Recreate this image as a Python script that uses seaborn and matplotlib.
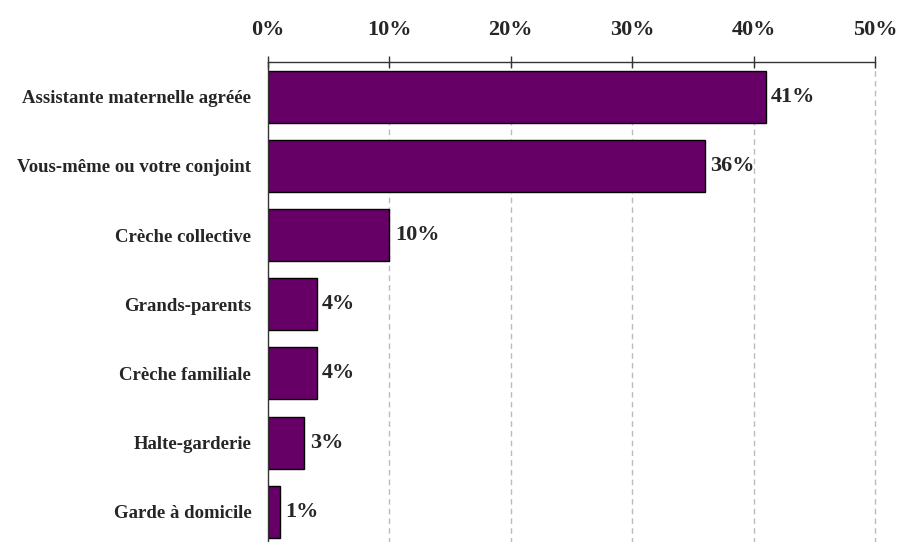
import matplotlib
matplotlib.use("Agg")
import matplotlib.pyplot as plt
import seaborn as sns
import pandas as pd
from matplotlib.ticker import FixedLocator

categories = ["Assistante maternelle agréée", "Vous-même ou votre conjoint",
              "Crèche collective", "Grands-parents", "Crèche familiale",
              "Halte-garderie", "Garde à domicile"]
values = [41, 36, 10, 4, 4, 3, 1]
xticks = [0, 10, 20, 30, 40, 50]
xtick_labels = ["0%", "10%", "20%", "30%", "40%", "50%"]

sns.set_theme(style="white")
plt.rcParams['font.family'] = ['Liberation Serif', 'DejaVu Serif']

df = pd.DataFrame({"cat": categories, "val": values})

fig = plt.figure(figsize=(8.98, 5.42), dpi=100)
H = 542
top_px, step = 62, 69.2
bottom_px = top_px + 7 * step
ax = fig.add_axes([268 / 898, (H - bottom_px) / H, (875 - 268) / 898, (bottom_px - top_px) / H])

sns.barplot(data=df, x="val", y="cat", orient="h", color="#660066",
            edgecolor="black", linewidth=1.0, width=0.75, saturation=1, ax=ax)

ax.set_xlim(0, 50)
ax.set_ylim(6.5, -0.5)
ax.set_xlabel("")
ax.set_ylabel("")

ax.xaxis.tick_top()
ax.set_xticks(xticks)
ax.set_xticklabels(xtick_labels, fontsize=16, fontweight="bold")
ax.tick_params(axis="x", direction="inout", length=8, width=1, color="#333333", pad=12)

ax.set_yticks(range(len(categories)))
ax.set_yticklabels(categories, fontsize=13.5, fontweight="bold")
ax.tick_params(axis="y", which="major", length=0, pad=12)
ax.yaxis.set_minor_locator(FixedLocator([i + 0.5 for i in range(-1, len(categories))]))
ax.tick_params(axis="y", which="minor", direction="out", length=6, width=1, color="#333333")

for x in xticks[1:]:
    ax.axvline(x, color="#bbbbbb", linestyle=(0, (4, 3)), linewidth=1, zorder=0, clip_on=False)

for s in ["right", "bottom"]:
    ax.spines[s].set_visible(False)
for s in ["top", "left"]:
    ax.spines[s].set_color("#333333")
    ax.spines[s].set_linewidth(1)

for i, v in enumerate(values):
    ax.text(v + 0.45, i, f"{v}%", va="center", ha="left", fontsize=16, fontweight="bold")

fig.savefig("out.png", dpi=100)
